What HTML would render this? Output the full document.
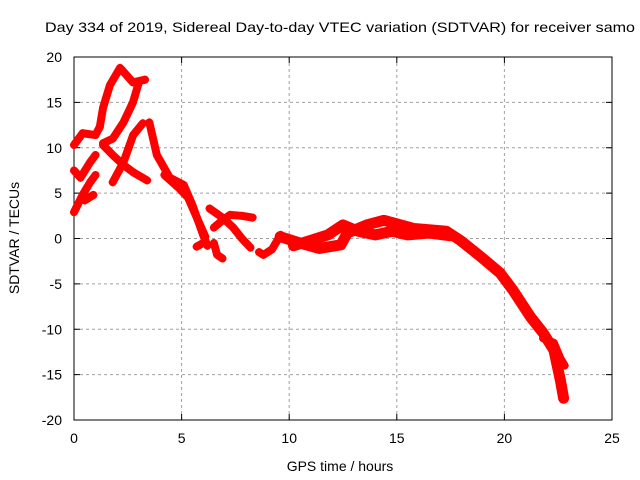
<!DOCTYPE html>
<html><head><meta charset="utf-8"><style>
body{margin:0;background:#fff}
svg{display:block;font-family:"Liberation Sans",sans-serif}
</style></head><body>
<svg width="640" height="480">
<rect width="640" height="480" fill="#fff"/>
<text x="45" y="32" font-size="14" textLength="590" lengthAdjust="spacingAndGlyphs">Day 334 of 2019, Sidereal Day-to-day VTEC variation (SDTVAR) for receiver samo</text>
<g id="grid"></g>
<g id="axes"></g>
<g id="series"></g>
<text x="340" y="471" font-size="14" text-anchor="middle">GPS time / hours</text>
<text transform="translate(19,238) rotate(-90)" font-size="14" text-anchor="middle">SDTVAR / TECUs</text>
</svg>
<script>
const xTicks=[0,5,10,15,20,25];
const yTicks=[-20,-15,-10,-5,0,5,10,15,20];
const track1=[[0,10.3],[0.4,11.6],[1,11.4],[1.2,12.3],[1.35,14.4],[1.67,16.9],[2.14,18.8],[2.74,17.2],[3.3,17.5]];
const track2=[[3,17.1],[2.74,15],[2.3,12.8],[1.8,11],[1.35,10.5]];
const track3=[[1.35,10.3],[1.8,9.2],[2.3,8.1],[2.75,7.3],[3.4,6.4]];
const track4=[[1.8,6.2],[2.3,8.4],[2.75,11.4],[3.2,12.7]];
const track5=[[3.5,12.8],[3.85,9.2],[4.45,6.7],[5.1,5.9],[5.5,3.7],[6,0.4],[6.2,-0.8]];
const track5b=[[4.2,7],[4.9,5.5],[5.3,4.5],[5.8,1.8],[6.1,0.2]];
const track6=[[0,7.5],[0.3,6.7],[0.75,8.4],[1,9.2]];
const track7=[[0,2.9],[0.4,4.8],[0.75,6.2],[1,7]];
const track7b=[[0.5,4.2],[0.9,4.8]];
const track8=[[6.3,3.3],[6.9,2.3],[7.4,1.2],[7.8,0],[8.2,-1]];
const track9=[[6.5,1.2],[6.9,2],[7.25,2.6],[7.8,2.5],[8.3,2.3]];
const track10=[[5.7,-0.9],[6,-0.5]];
const track11=[[6.5,-0.5],[6.65,-1.8],[6.9,-2.2]];
const track12=[[8.6,-1.5],[8.8,-1.8],[9.2,-1.2],[9.6,0.4],[9.9,-0.2]];
const track13=[[9.58,0.2],[10.5,-0.5],[11.4,-1.1],[12.4,-0.7],[12.7,0.6],[13.6,1.5],[14.4,2],[15.8,1.1],[17.3,0.8],[17.95,-0.2],[18.9,-2],[19.8,-3.8],[20.4,-5.7],[21.2,-8.6],[21.8,-10.4],[22.3,-12.3],[22.6,-15.6],[22.75,-17.6]];
const track14=[[10.2,-0.8],[11,-0.2],[11.8,0.4],[12.5,1.5],[13.2,0.8],[14,0.4],[14.8,0.8],[15.5,0.4],[16.5,0.6],[17.5,0.3]];
const track15=[[21.8,-11],[22.3,-11.5],[22.6,-13.2],[22.8,-14]];
const tracks=[track1,track2,track3,track4,track5,track5b,track6,track7,track7b,track8,track9,track10,track11,track12,track13,track14,track15];
const ns="http://www.w3.org/2000/svg";
const X0=74,X1=612,Y0=420,Y1=57;
const sx=h=>X0+(h-0)/25*(X1-X0);
const sy=v=>Y0-(v+20)/40*(Y0-Y1);
function mk(t,a,p){const e=document.createElementNS(ns,t);for(const k in a)e.setAttribute(k,a[k]);p.appendChild(e);return e;}
const grid=document.getElementById('grid'),axes=document.getElementById('axes'),ser=document.getElementById('series');
xTicks.forEach(t=>{const x=sx(t);
 if(t>0&&t<25){const g=mk('line',{x1:x,x2:x,y1:Y1,y2:Y0,stroke:'#a0a0a0','stroke-dasharray':'3,3'},grid);
 
 }
 mk('line',{x1:x,x2:x,y1:Y0,y2:Y0-6,stroke:'#000'},axes);mk('line',{x1:x,x2:x,y1:Y1,y2:Y1+6,stroke:'#000'},axes);
 const l=mk('text',{x:x,y:Y0+23,'font-size':14,'text-anchor':'middle'},axes);l.textContent=t;
 
 });
yTicks.forEach(t=>{const y=sy(t);
 if(t>-20&&t<20){const g=mk('line',{x1:X0,x2:X1,y1:y,y2:y,stroke:'#a0a0a0','stroke-dasharray':'3,3'},grid);
 
 }
 mk('line',{x1:X0,x2:X0+6,y1:y,y2:y,stroke:'#000'},axes);mk('line',{x1:X1,x2:X1-6,y1:y,y2:y,stroke:'#000'},axes);
 const l=mk('text',{x:X0-12,y:y+5,'font-size':14,'text-anchor':'end'},axes);l.textContent=t;
 
 });
const fr=mk('rect',{x:X0,y:Y1,width:X1-X0,height:Y0-Y1,fill:'none',stroke:'#000'},axes);


tracks.forEach((tr,i)=>{
 const pl=mk('polyline',{points:tr.map(p=>sx(p[0])+','+sy(p[1])).join(' '),fill:'none',stroke:'#f00','stroke-width':(i===14||i===15)?11:8,'stroke-linejoin':'round','stroke-linecap':'round'},ser);
 
 
 tr.forEach(p=>{const x=sx(p[0]),y=sy(p[1]);
  const m=mk('path',{d:`M${x-4},${y}H${x+4}M${x},${y-4}V${y+4}`,stroke:'#f00','stroke-width':1.5},ser);
  
  });
});
</script>
</body></html>
